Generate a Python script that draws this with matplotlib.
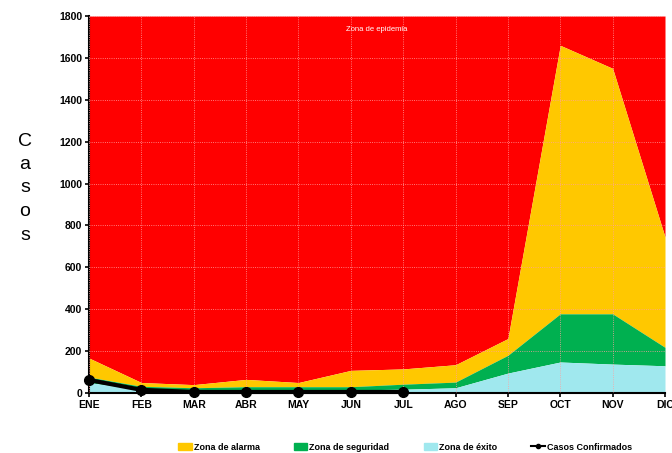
import matplotlib
matplotlib.use('Agg')
import matplotlib.pyplot as plt
from matplotlib.lines import Line2D
from matplotlib.patches import Patch
import numpy as np

plt.rcParams['font.family'] = ['Liberation Sans Narrow', 'Liberation Sans', 'DejaVu Sans']

meses = ['ENE', 'FEB', 'MAR', 'ABR', 'MAY', 'JUN', 'JUL', 'AGO', 'SEP', 'OCT', 'NOV', 'DIC']
# limites superiores (acumulados) de cada zona
exito = [50, 15, 10, 12, 15, 15, 18, 25, 95, 148, 138, 130]
seguridad = [76, 32, 25, 30, 30, 30, 42, 52, 180, 378, 378, 218]
alarma = [167, 50, 40, 65, 50, 108, 115, 135, 260, 1660, 1550, 745]
epidemia_tope = 1800
casos_meses = ['ENE', 'FEB', 'MAR', 'ABR', 'MAY', 'JUN', 'JUL']
casos = [62, 15, 5, 5, 5, 5, 5]

x = np.arange(len(meses))
xc = np.arange(len(casos_meses))

fig = plt.figure(figsize=(6.72, 4.53), dpi=100)
ax = fig.add_axes([89/672, 1 - 393/453, (665 - 89)/672, (393 - 16)/453])

ax.fill_between(x, alarma, epidemia_tope, color='#FF0000', lw=0, zorder=1)
ax.fill_between(x, seguridad, alarma, color='#FFC800', lw=0, zorder=1)
ax.fill_between(x, exito, seguridad, color='#00B050', lw=0, zorder=1)
ax.fill_between(x, 0, exito, color='#A0E8EE', lw=0, zorder=1)

ax.plot(xc, casos, color='black', lw=3, marker='o', ms=7, zorder=4, clip_on=False)

ax.set_xlim(0, 11)
ax.set_ylim(0, 1800)
ax.set_xticks(x)
ax.set_xticklabels(meses)
ax.set_yticks(np.arange(0, 1801, 200))
ax.grid(True, color='#FFA0A0', lw=0.6, ls=':', zorder=2)
ax.set_axisbelow(False)
for lab in ax.get_xticklabels() + ax.get_yticklabels():
    lab.set_fontsize(7.5)
    lab.set_fontweight('bold')
ax.tick_params(axis='both', length=3, width=1.2, direction='out', pad=2)
ax.spines['left'].set_linewidth(1.5)
ax.spines['bottom'].set_linewidth(1.5)
ax.spines['top'].set_visible(False)
ax.spines['right'].set_visible(False)

ax.text(0.5, 0.965, 'Zona de epidemia', transform=ax.transAxes, color='white',
        fontsize=5.5, ha='center', va='center')

fig.text(25/672, 1 - 188/453, 'C\na\ns\no\ns', fontsize=14, ha='center', va='center',
         linespacing=1.5)

handles = [Patch(color='#FFC800', label='Zona de alarma'),
           Patch(color='#00B050', label='Zona de seguridad'),
           Patch(color='#A0E8EE', label='Zona de éxito'),
           Line2D([0], [0], color='black', lw=1.5, marker='o', ms=3, label='Casos Confirmados')]
leg = fig.legend(handles=handles, loc='center', bbox_to_anchor=(405/672, 1 - 447/453), ncol=4,
                 frameon=False, fontsize=6.5, handlelength=1.5, handleheight=0.7,
                 handletextpad=0.2, columnspacing=3.8)
for t in leg.get_texts():
    t.set_fontweight('bold')

fig.savefig('out.png', dpi=100)
